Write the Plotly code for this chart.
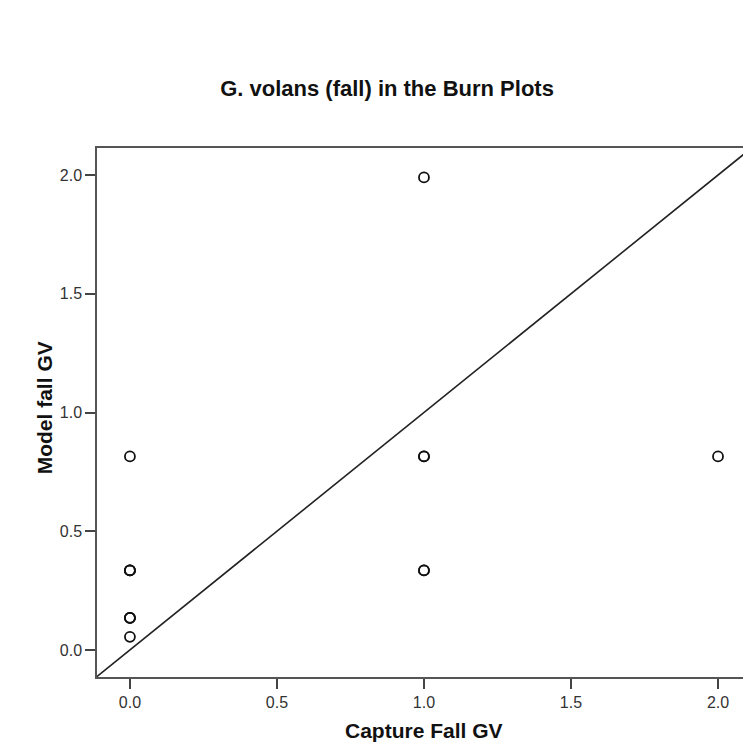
import plotly.graph_objects as go

# Data
capture_fall_gv = [1, 0, 1, 1, 2, 0, 0, 0, 0, 1, 1, 0, 0, 0]
model_fall_gv = [1.99, 0.815, 0.815, 0.815, 0.815, 0.335, 0.335, 0.135, 0.135, 0.335, 0.335, 0.055, 0.135, 0.335]

x_ticks = [0.0, 0.5, 1.0, 1.5, 2.0]
y_ticks = [0.0, 0.5, 1.0, 1.5, 2.0]
x_range = [-0.112, 2.085]
y_range = [-0.114, 2.114]

# Reference line y = x across the plotting range
ref_x = [y_range[0], y_range[1]]
ref_y = [y_range[0], y_range[1]]

FONT = "Liberation Sans, Arial"

fig = go.Figure()
fig.add_trace(go.Scatter(x=ref_x, y=ref_y, mode="lines",
                         line=dict(color="#222", width=1.6),
                         hoverinfo="skip", showlegend=False))
fig.add_trace(go.Scatter(x=capture_fall_gv, y=model_fall_gv, mode="markers",
                         marker=dict(symbol="circle-open", size=10,
                                     color="#111", line=dict(width=1.8, color="#111")),
                         showlegend=False))

axis_common = dict(showgrid=False, zeroline=False, showline=True,
                   linecolor="#555", linewidth=1.5, ticks="outside",
                   ticklen=10, tickwidth=1.5, tickcolor="#444",
                   tickfont=dict(family=FONT, size=16, color="#333"))

fig.update_layout(
    width=743, height=749,
    margin=dict(l=97, r=0, t=148, b=72),
    paper_bgcolor="white", plot_bgcolor="white",
    xaxis=dict(range=x_range, tickvals=x_ticks,
               ticktext=[f"{v:.1f}" for v in x_ticks], mirror=True, **axis_common),
    yaxis=dict(range=y_range, tickvals=y_ticks,
               ticktext=[f"{v:.1f}" for v in y_ticks], mirror=False, **axis_common),
    title=dict(text="<b>G. volans (fall) in the Burn Plots</b>",
               x=0.449, xref="paper", xanchor="center",
               y=1 - 88 / 749, yref="container", yanchor="middle",
               font=dict(family=FONT, size=22, color="#111")),
    annotations=[
        dict(text="<b>Capture Fall GV</b>", x=0.506, y=-0.102, xref="paper", yref="paper",
             xanchor="center", yanchor="middle", showarrow=False,
             font=dict(family=FONT, size=21, color="#111")),
        dict(text="<b>Model fall GV</b>", x=-0.082, y=0.508, xref="paper", yref="paper",
             xanchor="center", yanchor="middle", showarrow=False, textangle=-90,
             font=dict(family=FONT, size=21, color="#111")),
    ],
)

fig.write_html("out.html")
